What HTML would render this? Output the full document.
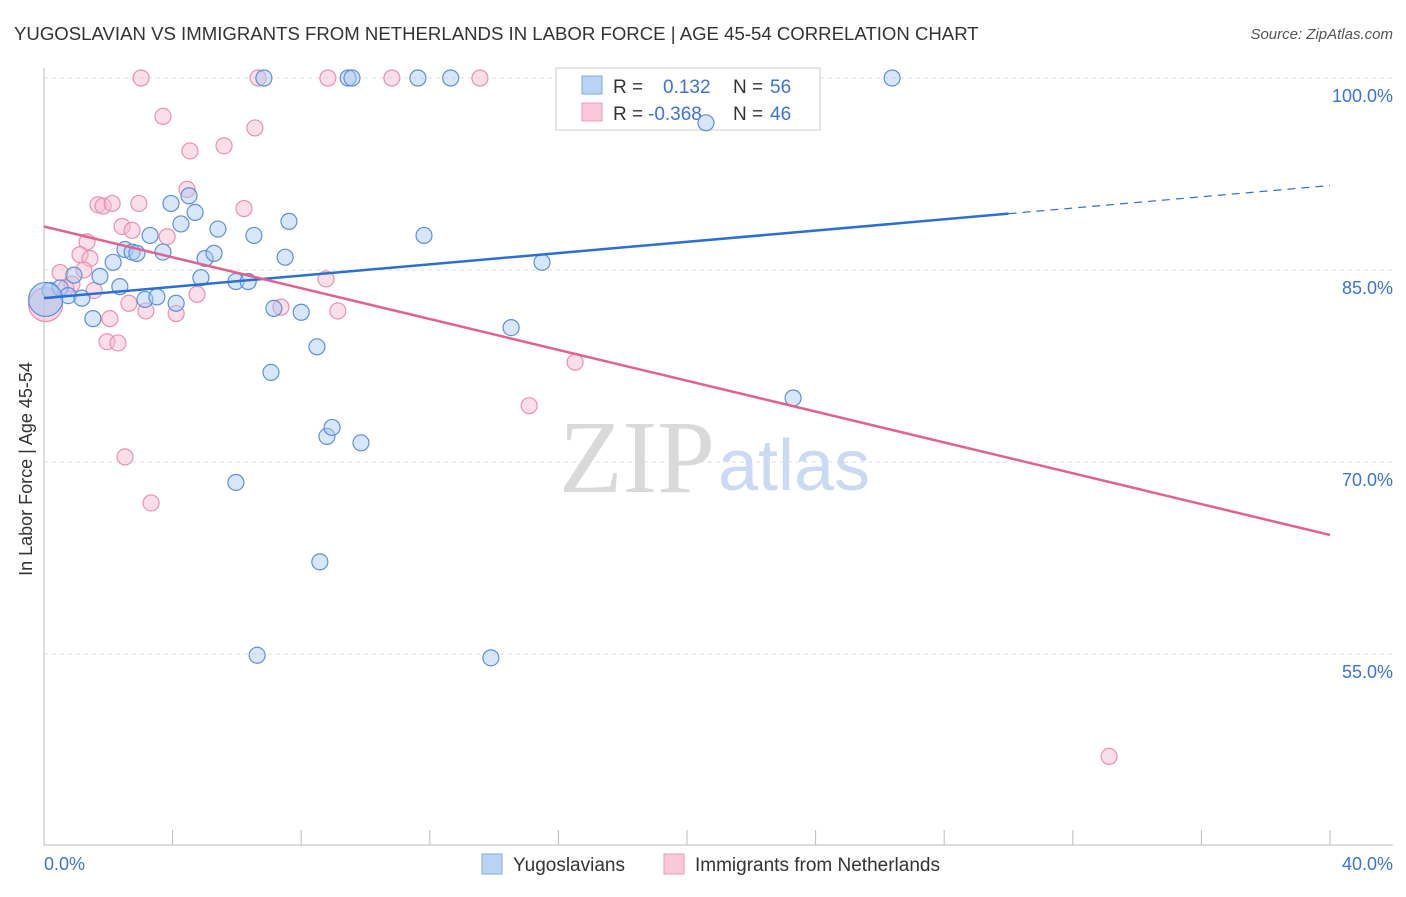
<!DOCTYPE html>
<html><head><meta charset="utf-8"><style>
body{margin:0;background:#fff;font-family:"Liberation Sans",sans-serif}
svg text{font-family:"Liberation Sans",sans-serif}
</style></head><body>
<svg id="chart" width="1406" height="892">
<text x="14" y="40" font-size="18.6" fill="#333">YUGOSLAVIAN VS IMMIGRANTS FROM NETHERLANDS IN LABOR FORCE | AGE 45-54 CORRELATION CHART</text>
<text x="1393" y="39" font-size="15" fill="#555" font-style="italic" text-anchor="end">Source: ZipAtlas.com</text>
<g id="grid"></g>
<text x="715" y="492" font-size="104" fill="#d9d9d9" text-anchor="end" style="font-family:'Liberation Serif',serif">ZIP</text>
<text x="718" y="490" font-size="72" fill="#c9daf2">atlas</text>
<line x1="44" y1="68" x2="44" y2="845" stroke="#bbb"/>
<line x1="44" y1="845" x2="1393" y2="845" stroke="#bbb"/>
<text x="20" y="457" font-size="18" fill="#333" transform="rotate(-90 32 457)" text-anchor="middle">In Labor Force | Age 45-54</text>
<g>
<rect x="556" y="68" width="264" height="62" fill="#fff" stroke="#ccc"/>
<rect x="582" y="76" width="20" height="18" fill="#b9d3f5" stroke="#7aa7e6"/>
<rect x="582" y="103" width="20" height="18" fill="#f9c9d7" stroke="#ec9ab4"/>
<text x="613" y="93" font-size="19" fill="#333">R = </text><text x="663" y="93" font-size="19" fill="#3b73d9">0.132</text>
<text x="733" y="93" font-size="19" fill="#333">N = </text><text x="770" y="93" font-size="19" fill="#3b73d9">56</text>
<text x="613" y="120" font-size="19" fill="#333">R = </text><text x="648" y="120" font-size="19" fill="#3b73d9">-0.368</text>
<text x="733" y="120" font-size="19" fill="#333">N = </text><text x="770" y="120" font-size="19" fill="#3b73d9">46</text>
</g>
<g id="marks"></g>
<g id="lines"></g>
<g>
<rect x="482" y="854" width="20" height="20" fill="#b9d3f5" stroke="#7aa7e6"/>
<text x="513" y="871" font-size="19" fill="#333">Yugoslavians</text>
<rect x="664" y="854" width="20" height="20" fill="#f9c9d7" stroke="#ec9ab4"/>
<text x="695" y="871" font-size="19" fill="#333">Immigrants from Netherlands</text>
</g>
</svg>
<script>
const yTicks=[100,85,70,55];
const yTickLabels=["100.0%","85.0%","70.0%","55.0%"];
const xTicks=[0,4,8,12,16,20,24,28,32,36,40];
const blueX=[6.84,9.46,9.58,11.63,12.65,26.38,20.59,0.19,0.50,0.75,1.18,1.52,1.74,0.93,2.15,2.36,2.52,2.74,2.89,3.14,3.30,3.51,3.70,3.95,4.11,4.26,4.51,4.70,4.88,5.01,5.29,5.41,5.97,6.35,6.53,7.15,7.50,7.62,8.00,8.49,7.06,8.80,8.96,9.86,5.97,8.58,6.63,13.90,11.82,15.49,14.53,23.30,0.05];
const blueY=[100,100,100,100,100,100,96.5,83.4,83.6,83.0,82.8,81.2,84.5,84.6,85.6,83.7,86.6,86.4,86.3,82.7,87.7,82.9,86.4,90.2,82.4,88.6,90.8,89.5,84.4,85.9,86.3,88.2,84.1,84.1,87.7,82.0,86.0,88.8,81.7,79.0,77.0,72.0,72.7,71.5,68.4,62.2,54.9,54.7,87.7,85.6,80.5,75.0,82.7];
const pinkX=[3.02,6.66,8.83,10.82,13.56,3.70,6.56,4.54,5.60,4.45,6.22,1.68,1.84,2.12,2.95,2.43,2.74,3.83,1.34,1.12,1.43,1.24,0.50,0.87,1.56,2.05,2.64,3.17,4.11,4.76,1.96,2.30,7.37,8.77,9.14,16.52,15.09,2.52,3.33,33.13,0.68,0.05];
const pinkY=[100,100,100,100,100,97.0,96.1,94.3,94.7,91.3,89.8,90.1,90.0,90.2,90.2,88.4,88.1,87.6,87.2,86.2,85.9,85.0,84.8,83.9,83.4,81.2,82.4,81.8,81.6,83.1,79.4,79.3,82.1,84.3,81.8,77.8,74.4,70.4,66.8,47.0,83.6,82.3];
const blueFit=[82.8,0.22];
const pinkFit=[88.4,-0.6025];
const X=v=>44+v*32.15, Y=v=>78+(100-v)*12.8;
const NS="http://www.w3.org/2000/svg";
function mk(tag,attrs,parent){const e=document.createElementNS(NS,tag);for(const k in attrs)e.setAttribute(k,attrs[k]);parent.appendChild(e);return e;}
const grid=document.getElementById('grid'),marks=document.getElementById('marks'),lines=document.getElementById('lines');
yTicks.forEach((t,i)=>{
 const l=mk('line',{x1:44,x2:1393,y1:Y(t),y2:Y(t),stroke:'#ddd','stroke-dasharray':'4,4'},grid);
 
 
 const tx=mk('text',{x:1393,y:Y(t)+24,'font-size':18,fill:'#3b73d9','text-anchor':'end'},grid);
 tx.textContent=yTickLabels[i];
 
 
});
xTicks.forEach(t=>{
 const l=mk('line',{x1:X(t),x2:X(t),y1:830,y2:845,stroke:'#bbb'},grid);
 
 
});
[[0,'0.0%','start',44],[40,'40.0%','end',1393]].forEach(a=>{
 const tx=mk('text',{x:a[3],y:870,'font-size':18,fill:'#3b73d9','text-anchor':a[2]},grid);
 tx.textContent=a[1];
 
 
});
function pts(xs,ys,fill,stroke,name){
 xs.forEach((x,i)=>{
  const big=(i===xs.length-1);
  const c=mk('circle',{cx:X(x),cy:Y(ys[i]),r:big?17:8,fill:fill,'fill-opacity':big?0.6:0.45,stroke:stroke,'stroke-width':1.2},marks);
  
  
 });
}
pts(pinkX,pinkY,'#f7b8cb','#ec8fae','point-netherlands');
pts(blueX,blueY,'#a9c8f2','#5b8fde','point-yugoslavian');
let l=mk('line',{x1:X(0),y1:Y(blueFit[0]),x2:X(30),y2:Y(blueFit[0]+30*blueFit[1]),stroke:'#2a6fd6','stroke-width':2.5},lines);


l=mk('line',{x1:X(30),y1:Y(blueFit[0]+30*blueFit[1]),x2:X(40),y2:Y(blueFit[0]+40*blueFit[1]),stroke:'#2a6fd6','stroke-width':1.2,'stroke-dasharray':'8,6'},lines);


l=mk('line',{x1:X(0),y1:Y(pinkFit[0]),x2:X(40),y2:Y(pinkFit[0]+40*pinkFit[1]),stroke:'#e4608f','stroke-width':2.5},lines);


</script>
</body></html>
